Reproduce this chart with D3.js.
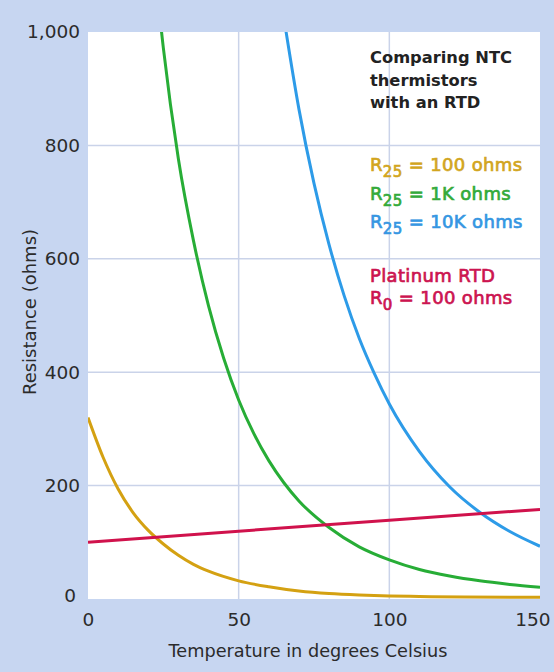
<!DOCTYPE html>
<html>
<head>
<meta charset="utf-8">
<script src="https://cdn.jsdelivr.net/npm/d3@7"></script>
<style>
  html, body { margin: 0; padding: 0; background: #c7d6f1; }
  svg { display: block; }
  text { font-family: "DejaVu Sans", sans-serif; }
</style>
</head>
<body>
<svg id="chart" width="554" height="672"></svg>
<script>
// ---- data ----
const xTicks = [0, 50, 100, 150];
const yTicks = [0, 200, 400, 600, 800, 1000];
const xGrid = [50, 100];
const yGrid = [200, 400, 600, 800];

const r100Temp = [0, 5, 10, 15, 20, 25, 30, 35, 40, 50, 60, 70, 80, 90, 100, 110, 125, 150];
const r100Ohms = [320, 250, 194, 152, 121, 97, 77, 61, 49, 32, 21.5, 14, 9.5, 7, 5.5, 4.5, 3.5, 3];

const r1kTemp = [20, 25, 30, 35, 40, 45, 50, 55, 60, 65, 70, 80, 90, 100, 110, 120, 130, 140, 150];
const r1kOhms = [1235, 972, 776, 632, 517, 425, 351, 292, 244, 205, 173, 126, 92, 69, 52, 40.5, 32, 25.7, 20.5];

const r10kTemp = [65, 70, 75, 80, 85, 90, 95, 100, 110, 120, 130, 140, 150];
const r10kOhms = [1025, 864, 733, 625, 535, 460, 398, 344, 260, 198, 153, 119, 93];

const rtdTemp = [0, 50, 100, 150];
const rtdOhms = [100, 119.5, 139, 158];

const seriesNames = ["R25 = 100 ohms", "R25 = 1K ohms", "R25 = 10K ohms", "Platinum RTD"];
const titleLines = ["Comparing NTC", "thermistors", "with an RTD"];

// ---- layout ----
const svg = d3.select("#chart");
const mLeft = 88, mRight = 540, mTop = 32, mBottom = 599;
const x = d3.scaleLinear().domain([0, 150]).range([mLeft, mRight]);
const y = d3.scaleLinear().domain([0, 1000]).range([mBottom, mTop]);

const colors = {
  yellow: "#d4a112",
  green: "#27ad36",
  blue: "#2d9be8",
  red: "#d0124c"
};

svg.append("rect").attr("width", 554).attr("height", 672).attr("fill", "#c7d6f1");
svg.append("rect").attr("x", mLeft).attr("y", mTop)
  .attr("width", mRight - mLeft).attr("height", mBottom - mTop).attr("fill", "#ffffff");

// grid
svg.append("g").selectAll("line").data(yGrid).join("line")
  .attr("x1", mLeft).attr("x2", mRight)
  .attr("y1", d => y(d)).attr("y2", d => y(d))
  .attr("stroke", "#cad3e9").attr("stroke-width", 1.5);
svg.append("g").selectAll("line").data(xGrid).join("line")
  .attr("y1", mTop).attr("y2", mBottom)
  .attr("x1", d => x(d)).attr("x2", d => x(d))
  .attr("stroke", "#cad3e9").attr("stroke-width", 1.5);

// axes (labels only)
const yAxis = d3.axisLeft(y).tickValues(yTicks).tickSize(0).tickPadding(8)
  .tickFormat(d3.format(","));
const gy = svg.append("g").attr("transform", `translate(${mLeft},0)`).call(yAxis);
gy.select(".domain").remove();
gy.selectAll("text").attr("font-family", "DejaVu Sans").attr("font-size", 18.5)
  .attr("fill", "#2b2b2b");
gy.selectAll(".tick").filter(d => d === 0).select("text").attr("x", -12).attr("dy", "0.15em");

const xAxis = d3.axisBottom(x).tickValues(xTicks).tickSize(0).tickPadding(14);
const gx = svg.append("g").attr("transform", `translate(0,${mBottom})`).call(xAxis);
gx.select(".domain").remove();
gx.selectAll("text").attr("font-family", "DejaVu Sans").attr("font-size", 18.5)
  .attr("fill", "#2b2b2b");
gx.selectAll(".tick").filter(d => d === 150).select("text")
  .attr("text-anchor", "end").attr("x", 10);

svg.append("text").attr("x", 308).attr("y", 657).attr("text-anchor", "middle")
  .attr("font-size", 17.7).attr("fill", "#2b2b2b").text("Temperature in degrees Celsius");
svg.append("text").attr("transform", "translate(36,312) rotate(-90)")
  .attr("text-anchor", "middle").attr("font-size", 18).attr("fill", "#2b2b2b")
  .text("Resistance (ohms)");

// lines
svg.append("clipPath").attr("id", "clip").append("rect")
  .attr("x", mLeft).attr("y", mTop).attr("width", mRight - mLeft).attr("height", mBottom - mTop);
const line = d3.line().x(d => x(d[0])).y(d => y(d[1])).curve(d3.curveMonotoneX);
const plot = svg.append("g").attr("clip-path", "url(#clip)");
const series = [
  [d3.zip(r100Temp, r100Ohms), colors.yellow],
  [d3.zip(r1kTemp, r1kOhms), colors.green],
  [d3.zip(r10kTemp, r10kOhms), colors.blue],
  [d3.zip(rtdTemp, rtdOhms), colors.red]
];
series.forEach(([pts, c]) => {
  plot.append("path").attr("d", line(pts)).attr("fill", "none")
    .attr("stroke", c).attr("stroke-width", 3).attr("stroke-linecap", "butt");
});

// title block
const tt = svg.append("text").attr("x", 370).attr("y", 63)
  .attr("font-size", 16.3).attr("font-weight", "bold").attr("fill", "#222");
titleLines.forEach((t, i) => {
  tt.append("tspan").attr("x", 370).attr("y", 63 + i * 22.5).text(t);
});

// legend with subscripts (semi-bold look)
function styleLegend(t, color) {
  t.attr("font-size", 18).attr("letter-spacing", 0.35).attr("font-weight", "normal")
    .attr("fill", color)
    .attr("stroke", color).attr("stroke-width", 0.7).attr("paint-order", "stroke");
}
function legendEntry(yPos, sub, rest, color) {
  const t = svg.append("text").attr("x", 370).attr("y", yPos);
  styleLegend(t, color);
  t.append("tspan").text("R");
  t.append("tspan").attr("dy", 6).attr("font-size", 15).text(sub);
  t.append("tspan").attr("dy", -6).text(rest);
}
legendEntry(171, "25", " = 100 ohms", "#d2a51e");
legendEntry(199.5, "25", " = 1K ohms", "#33aa3a");
legendEntry(228, "25", " = 10K ohms", "#3596e2");
const pt = svg.append("text").attr("x", 370).attr("y", 282).text(seriesNames[3]);
styleLegend(pt, "#cc1450");
legendEntry(304, "0", " = 100 ohms", "#cc1450");
</script>
</body>
</html>
